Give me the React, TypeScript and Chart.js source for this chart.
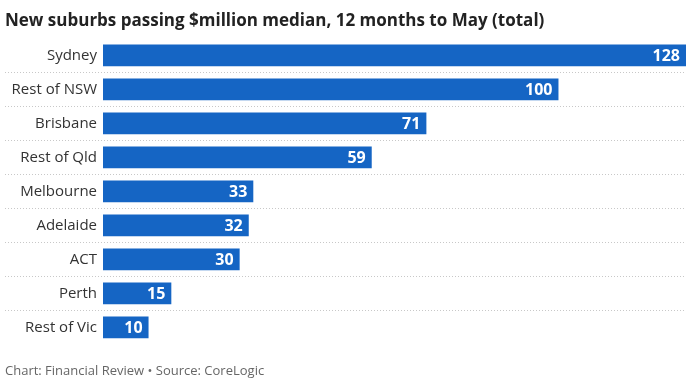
import React, { useEffect, useRef } from "react";
import { Chart, registerables } from "chart.js";

Chart.register(...registerables);

const categories = ["Sydney", "Rest of NSW", "Brisbane", "Rest of Qld", "Melbourne", "Adelaide", "ACT", "Perth", "Rest of Vic"];
const values = [128, 100, 71, 59, 33, 32, 30, 15, 10];
const titleText = "New suburbs passing $million median, 12 months to May (total)";
const footerText = "Chart: Financial Review \u2022 Source: CoreLogic";

const FONT = "'Open Sans', 'Noto Sans', sans-serif";
const BAR = "#1565c4";

const extrasPlugin = {
  id: "extras",
  beforeDatasetsDraw(chart: any) {
    const { ctx, chartArea } = chart;
    const y = chart.scales.y;
    ctx.save();
    ctx.strokeStyle = "#c8c8c8";
    ctx.lineWidth = 1;
    ctx.setLineDash([1, 2]);
    for (let i = 0; i < categories.length - 1; i++) {
      const yy = Math.round((y.getPixelForValue(i) + y.getPixelForValue(i + 1)) / 2) + 0.5;
      ctx.beginPath();
      ctx.moveTo(5, yy);
      ctx.lineTo(chartArea.right, yy);
      ctx.stroke();
    }
    ctx.restore();
  },
  afterDatasetsDraw(chart: any) {
    const { ctx } = chart;
    const meta = chart.getDatasetMeta(0);
    ctx.save();
    ctx.fillStyle = "#ffffff";
    ctx.font = `bold 16px ${FONT}`;
    ctx.textAlign = "right";
    ctx.textBaseline = "middle";
    meta.data.forEach((bar: any, i: number) => {
      ctx.fillText(String(values[i]), bar.x - 6, bar.y + 1);
    });
    ctx.restore();
  },
};

export default function App() {
  const ref = useRef<HTMLCanvasElement>(null);
  useEffect(() => {
    document.body.style.margin = "0";
    const chart = new Chart(ref.current!, {
      type: "bar",
      data: {
        labels: categories,
        datasets: [
          {
            data: values,
            backgroundColor: BAR,
            categoryPercentage: 1,
            barPercentage: 0.64,
          },
        ],
      },
      options: {
        indexAxis: "y",
        animation: false,
        responsive: false,
        layout: { padding: { left: 5, right: 7, top: 0, bottom: 0 } },
        plugins: {
          legend: { display: false },
          tooltip: { enabled: false },
          title: {
            display: true,
            text: titleText,
            align: "start",
            color: "#222222",
            font: { family: FONT, size: 17, weight: "bold" },
            padding: { top: 11, bottom: 7 },
          },
          subtitle: {
            display: true,
            position: "bottom",
            text: footerText,
            align: "start",
            color: "#666666",
            font: { family: FONT, size: 13, weight: "normal" },
            padding: { top: 19, bottom: 5 },
          },
        },
        scales: {
          x: { display: false, min: 0, max: 128 },
          y: {
            afterFit: (s: any) => {
              s.width = 98;
            },
            grid: { display: false, drawTicks: false },
            border: { display: false },
            ticks: {
              color: "#333333",
              padding: 6,
              font: { family: FONT, size: 15 },
            },
          },
        },
      },
      plugins: [extrasPlugin],
    });
    return () => chart.destroy();
  }, []);
  return <canvas ref={ref} width={693} height={384} style={{ display: "block" }} />;
}
